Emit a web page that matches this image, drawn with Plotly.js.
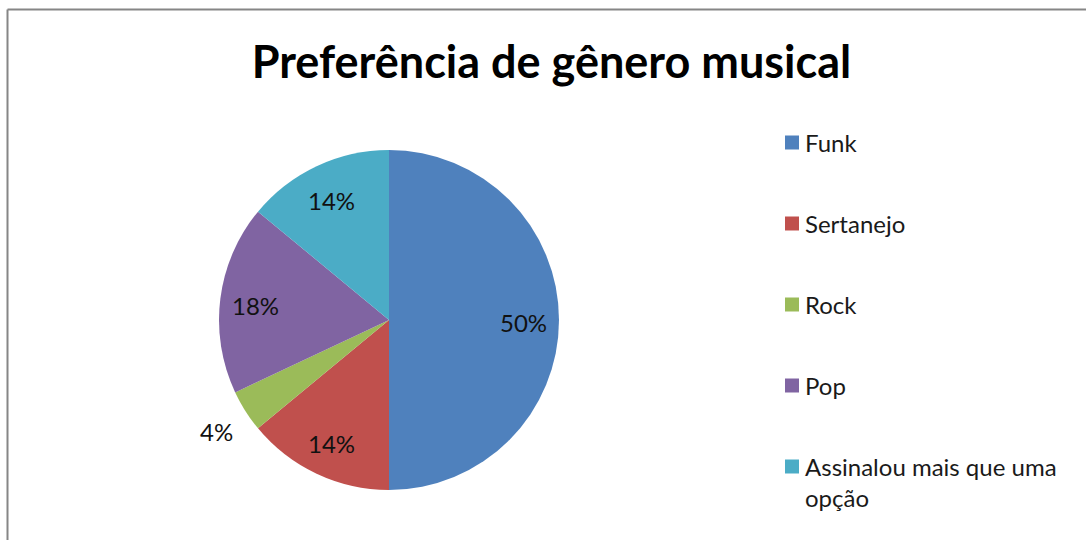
<!DOCTYPE html>
<html>
<head>
<meta charset="utf-8">
<script src="https://cdn.plot.ly/plotly-3.0.1.min.js"></script>
<style>html,body{margin:0;padding:0;background:#fff;}#chart{width:1086px;height:540px;}</style>
</head>
<body>
<div id="chart"></div>
<script>
const categories = ['Funk', 'Sertanejo', 'Rock', 'Pop', 'Assinalou mais que uma opção'];
const legendLabels = ['Funk', 'Sertanejo', 'Rock', 'Pop', 'Assinalou mais que uma<br>opção'];
const values = [50, 14, 4, 18, 14];
const colors = ['#4F81BD', '#C0504D', '#9BBB59', '#8064A2', '#4BACC6'];
const labelOutside = [false, false, true, false, false];

const W = 1086, H = 540;
const FONT = 'Lato, "Open Sans", sans-serif';
const cx = 389, cy = 320, r = 170;

const trace = {
  type: 'pie',
  labels: categories,
  values: values,
  sort: false,
  direction: 'clockwise',
  rotation: 0,
  marker: { colors: colors, line: { width: 0 } },
  textinfo: 'none',
  showlegend: false,
  hoverinfo: 'label+percent',
  domain: { x: [(cx - r) / W, (cx + r) / W], y: [(H - cy - r) / H, (H - cy + r) / H] }
};

const shapes = [
  { type: 'line', xref: 'paper', yref: 'paper', x0: 7.5 / W, x1: 1.01, y0: 1 - 9.5 / H, y1: 1 - 9.5 / H, line: { color: '#868686', width: 2 } },
  { type: 'line', xref: 'paper', yref: 'paper', x0: 7.5 / W, x1: 7.5 / W, y0: 1 - 9.5 / H, y1: -0.01, line: { color: '#868686', width: 2 } }
];
const annotations = [];

// percentage labels, placed at each slice's mid-angle (derived from the values)
const total = values.reduce((a, b) => a + b, 0);
let cum = 0;
values.forEach((v, i) => {
  const mid = (cum + v / 2) / total * 2 * Math.PI;
  cum += v;
  const rr = r * (labelOutside[i] ? 1.2 : 0.79);
  const px = cx + rr * Math.sin(mid);
  const py = cy - rr * Math.cos(mid) + 2;
  annotations.push({ xref: 'paper', yref: 'paper', x: px / W, y: 1 - py / H, xanchor: 'center', yanchor: 'middle', showarrow: false, text: Math.round(v / total * 100) + '%', font: { family: FONT, size: 24, color: '#111' } });
});

// legend
const legX = 785, legY0 = 142.5, legGap = 81, sq = 14;
legendLabels.forEach((lab, i) => {
  const yc = legY0 + i * legGap;
  shapes.push({ type: 'rect', xref: 'paper', yref: 'paper', x0: legX / W, x1: (legX + sq) / W, y0: 1 - (yc - sq / 2) / H, y1: 1 - (yc + sq / 2) / H, fillcolor: colors[i], line: { width: 0 } });
  annotations.push({ xref: 'paper', yref: 'paper', x: 803 / W, y: 1 - (yc - 16.5) / H, xanchor: 'left', yanchor: 'top', align: 'left', showarrow: false, text: lab, font: { family: FONT, size: 24, color: '#1a1a1a' } });
});

const layout = {
  width: W, height: H,
  margin: { l: 0, r: 0, t: 0, b: 0 },
  paper_bgcolor: '#fff',
  title: { text: '<b>Preferência de gênero musical</b>', x: 551.5 / W, xanchor: 'center', xref: 'paper', y: 1 - 62 / H, yanchor: 'middle', yref: 'container', font: { family: FONT, size: 45, color: '#000' } },
  shapes: shapes,
  annotations: annotations
};
Plotly.newPlot('chart', [trace], layout, { displayModeBar: false, staticPlot: true });
</script>
</body>
</html>
